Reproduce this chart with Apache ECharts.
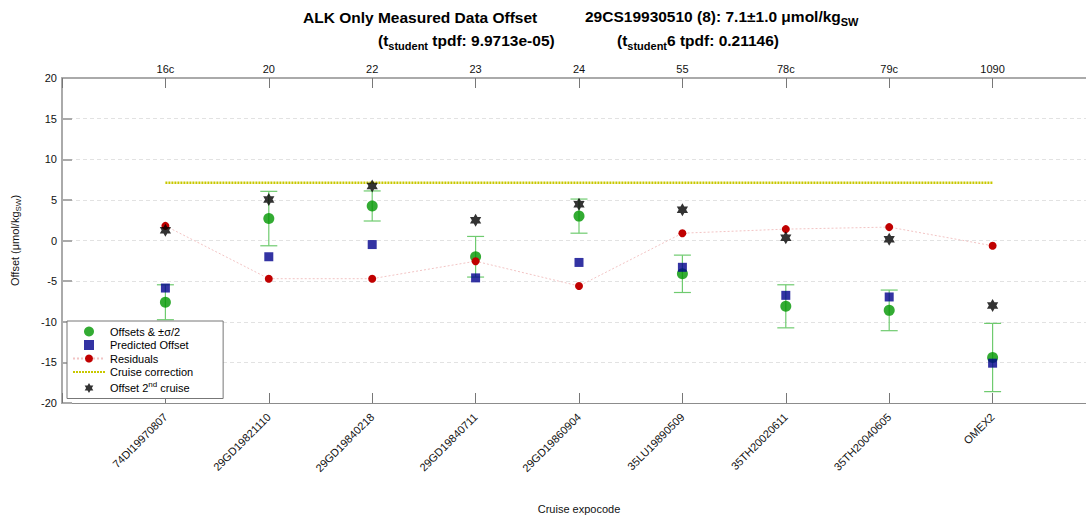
<!DOCTYPE html>
<html><head><meta charset="utf-8">
<script src="https://cdn.jsdelivr.net/npm/echarts@6/dist/echarts.min.js"></script>
<style>html,body{margin:0;padding:0;background:#fff}#c{width:1086px;height:517px}</style>
</head><body><div id="c"></div>
<script>
const categories = ['74DI19970807','29GD19821110','29GD19840218','29GD19840711','29GD19860904','35LU19890509','35TH20020611','35TH20040605','OMEX2'];
const topLabels = ['16c','20','22','23','24','55','78c','79c','1090'];
const offsets = [-7.6, 2.7, 4.25, -2.0, 3.0, -4.1, -8.1, -8.6, -14.4];
const halfSigma = [2.15, 3.35, 1.85, 2.5, 2.1, 2.3, 2.65, 2.5, 4.2];
const predicted = [-5.85, -2.0, -0.5, -4.6, -2.7, -3.3, -6.75, -6.95, -15.1];
const residuals = [1.8, -4.7, -4.7, -2.55, -5.6, 0.9, 1.4, 1.65, -0.65];
const secondCruise = [1.25, 5.05, 6.7, 2.5, 4.45, 3.8, 0.35, 0.15, -8.0];
const correction = 7.1;
const yMin = -20, yMax = 20, yStep = 5;

const FONT = 'Liberation Sans, Arial, Helvetica, sans-serif';
const pos = i => i + 1;
const pairs = arr => arr.map((v, i) => [pos(i), v]);
const errData = offsets.map((v, i) => [pos(i), v - halfSigma[i], v + halfSigma[i]]);
const corrData = [[pos(0), correction], [pos(categories.length - 1), correction]];
const hexagram = 'path://M0,-10 L2.89,-5 L8.66,-5 L5.77,0 L8.66,5 L2.89,5 L0,10 L-2.89,5 L-8.66,5 L-5.77,0 L-8.66,-5 L-2.89,-5 Z';
const square = 'path://M0,0 L10,0 L10,10 L0,10 Z';

const chart = echarts.init(document.getElementById('c'), null, {renderer: 'svg'});
const titleRich = {
  b: {fontFamily: FONT, fontSize: 15.5, fontWeight: 'bold', color: '#000'},
  s: {fontFamily: FONT, fontSize: 11, fontWeight: 'bold', color: '#000', padding: [10, 0, 0, 0]}
};
const axisGray = '#8c8c8c';
chart.setOption({
  animation: false,
  textStyle: {fontFamily: FONT},
  title: [
    {text: '{b|ALK Only Measured Data Offset}', left: 298, top: 4, textStyle: {rich: titleRich}},
    {text: '{b|29CS19930510 (8): 7.1±1.0 μmol/kg}{s|SW}', left: 580, top: 1, textStyle: {rich: titleRich}},
    {text: '{b|(t}{s|student}{b| tpdf: 9.9713e-05)}', left: 373, top: 25, textStyle: {rich: titleRich}},
    {text: '{b|(t}{s|student}{b|6 tpdf: 0.21146)}', left: 612, top: 25, textStyle: {rich: titleRich}}
  ],
  grid: {left: 62, top: 78, right: -10, bottom: 114, containLabel: false, outerBoundsMode: 'none'},
  legend: {
    orient: 'vertical', left: 67, top: 321,
    padding: [5, 30, 5, 5], itemGap: 2.5, itemWidth: 32, itemHeight: 10,
    backgroundColor: '#fff', borderColor: '#777', borderWidth: 1,
    data: [
      {name: 'Offsets & ±σ/2'},
      {name: 'Predicted Offset'},
      {name: 'Residuals'},
      {name: 'Cruise correction', itemStyle: {opacity: 0}},
      {name: 'Offset 2nd cruise'}
    ],
    formatter: n => n === 'Offset 2nd cruise' ? '{a|Offset 2}{sup|nd}{a| cruise}' : '{a|' + n + '}',
    textStyle: {fontFamily: FONT, fontSize: 11, color: '#000',
      rich: {a: {fontFamily: FONT, fontSize: 11, color: '#000'},
             sup: {fontFamily: FONT, fontSize: 8, color: '#000', padding: [0, 0, 8, 0]}}}
  },
  xAxis: [
    {type: 'value', position: 'bottom', min: 0, max: 10, interval: 1,
     axisLine: {show: true, onZero: false, lineStyle: {color: axisGray}},
     axisTick: {show: true, inside: true, length: 10, lineStyle: {color: '#777'}},
     splitLine: {show: false},
     axisLabel: {rotate: 45, margin: 12, fontSize: 11, color: '#111', fontFamily: FONT,
       formatter: v => categories[v - 1] || ''},
     name: 'Cruise expocode', nameLocation: 'middle', nameGap: 100,
     nameTextStyle: {fontSize: 11, color: '#111', fontFamily: FONT}},
    {type: 'value', position: 'top', min: 0, max: 10, interval: 1,
     axisLine: {show: true, onZero: false, lineStyle: {color: '#aaa', width: 2}},
     axisTick: {show: true, inside: true, length: 10, lineStyle: {color: '#777'}},
     splitLine: {show: false},
     axisLabel: {margin: 4, fontSize: 11, color: '#111', fontFamily: FONT,
       formatter: v => topLabels[v - 1] || ''}}
  ],
  yAxis: {
    type: 'value', min: yMin, max: yMax, interval: yStep,
    axisLine: {show: true, onZero: false, lineStyle: {color: '#aaa', width: 2}},
    axisTick: {show: true, inside: true, length: 10, lineStyle: {color: '#aaa', width: 2}},
    splitLine: {show: true, lineStyle: {color: '#e2e2e2', type: [4, 3], width: 1}},
    axisLabel: {margin: 5, fontSize: 11, color: '#111', fontFamily: FONT},
    name: '{a|Offset (μmol/kg}{s|SW}{a|)}', nameLocation: 'middle', nameGap: 40, nameRotate: 90,
    nameTextStyle: {rich: {a: {fontFamily: FONT, fontSize: 11, color: '#111'},
                           s: {fontFamily: FONT, fontSize: 8, color: '#111', padding: [7, 0, 0, 0]}}}
  },
  series: [
    {type: 'custom', name: 'errbars', data: errData, z: 1,
     renderItem: (params, api) => {
       const x = api.value(0);
       const lo = api.coord([x, api.value(1)]);
       const hi = api.coord([x, api.value(2)]);
       const w = 8.5;
       const st = {stroke: '#6fcb6f', lineWidth: 1.2};
       return {type: 'group', children: [
         {type: 'line', shape: {x1: lo[0], y1: lo[1], x2: hi[0], y2: hi[1]}, style: st},
         {type: 'line', shape: {x1: lo[0] - w, y1: lo[1], x2: lo[0] + w, y2: lo[1]}, style: st},
         {type: 'line', shape: {x1: hi[0] - w, y1: hi[1], x2: hi[0] + w, y2: hi[1]}, style: st}
       ]};
     }},
    {type: 'scatter', name: 'Offsets & ±σ/2', data: pairs(offsets), symbol: 'circle', symbolSize: 11,
     itemStyle: {color: '#009600'}, z: 2},
    {type: 'scatter', name: 'Predicted Offset', data: pairs(predicted), symbol: square, symbolKeepAspect: true,
     symbolSize: 9, itemStyle: {color: '#00008c'}, z: 3},
    {type: 'line', name: 'Residuals', data: pairs(residuals), symbol: 'circle', symbolSize: 8,
     showAllSymbol: true,
     lineStyle: {color: '#f2c4c4', width: 1, type: [2, 2]}, itemStyle: {color: '#c00000'}, z: 4},
    {type: 'line', name: 'Cruise correction', data: corrData, symbol: 'none',
     lineStyle: {color: '#c8c800', width: 2.5, type: [2, 1]}, itemStyle: {color: '#c8c800'}, z: 5},
    {type: 'scatter', name: 'Offset 2nd cruise', data: pairs(secondCruise), symbol: hexagram,
     symbolKeepAspect: true, symbolSize: 13, itemStyle: {color: '#000'}, z: 6}
  ]
});
</script>
</body></html>
